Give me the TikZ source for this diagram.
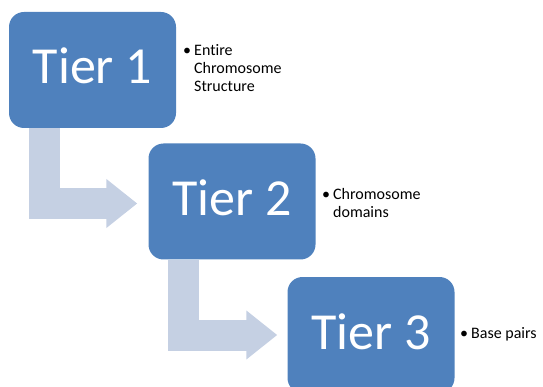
\documentclass[tikz,border=0pt]{standalone}
\usepackage{fontspec}
\setmainfont{Carlito}[Ligatures=NoCommon]
\usetikzlibrary{calc,arrows.meta}
\definecolor{tierblue}{RGB}{79,129,189}
\definecolor{arrowblue}{RGB}{197,208,227}
\begin{document}
\begin{tikzpicture}[x=1pt,y=-1pt,
  tierbox/.style={fill=tierblue, rounded corners=15pt, minimum width=167pt,
    minimum height=116pt, text=white, font=\fontsize{52}{60}\selectfont,
    text height=34pt, text depth=6pt, inner sep=0pt},
  bentarrow/.style={draw=arrowblue, line width=31pt, line join=miter,
    -{Triangle[length=31pt,width=47pt]}},
  bulletlabel/.style={anchor=base west, inner sep=0pt,
    font=\fontsize{16}{18}\selectfont, text=black}]
\useasboundingbox (0,0) rectangle (543,387);
\clip (0,0) rectangle (543,387);
\node[tierbox] (t1) at (92.5,70) {Tier 1};
\node[tierbox] (t2) at (232,201.5) {Tier 2};
\node[tierbox] (t3) at (371,335) {Tier 3};
\draw[bentarrow] ($(t1.south west)+(35.5,0)$) |- ($(t2.west)+(-11,2)$);
\draw[bentarrow] ($(t2.south west)+(35,0)$) |- ($(t3.west)+(-10,0)$);
\node[bulletlabel] (l1) at (183,56) {\makebox[11pt][l]{•}\begin{tabular}[t]{@{}l@{}}Entire\\Chromosome\\Structure\end{tabular}};
\node[bulletlabel] (l2) at (322,200) {\makebox[11pt][l]{•}\begin{tabular}[t]{@{}l@{}}Chromosome\\domains\end{tabular}};
\node[bulletlabel] (l3) at (460,338) {\makebox[11pt][l]{•}Base pairs};
\end{tikzpicture}
\end{document}
